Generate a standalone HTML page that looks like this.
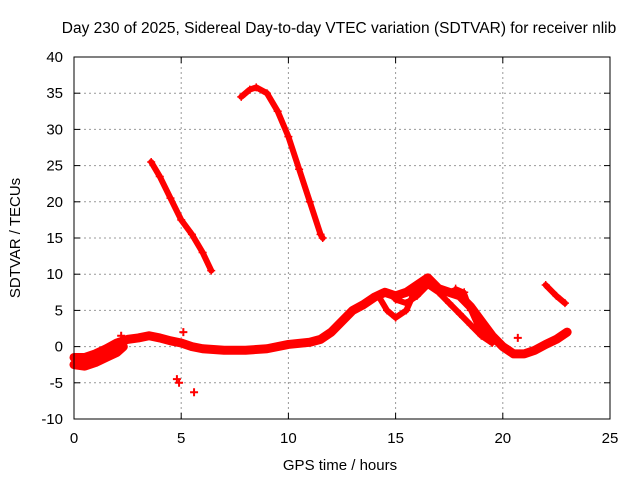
<!DOCTYPE html>
<html><head><meta charset="utf-8"><style>body{margin:0;background:#fff}svg{display:block;font-family:"Liberation Sans",sans-serif}</style></head>
<body>
<svg id="chart" width="640" height="480">
<text x="339" y="33" font-size="15.5" text-anchor="middle">Day 230 of 2025, Sidereal Day-to-day VTEC variation (SDTVAR) for receiver nlib</text>
<text x="340" y="470" font-size="15" text-anchor="middle">GPS time / hours</text>
<text x="20" y="238" font-size="15" text-anchor="middle" transform="rotate(-90 20 238)">SDTVAR / TECUs</text>
<g id="grid"></g><g id="marks"></g>
<rect x="74" y="57" width="536" height="362" fill="none" stroke="#000"/>
</svg>
<script>
const xTicks=[0,5,10,15,20,25];
const yTicks=[-10,-5,0,5,10,15,20,25,30,35,40];
const mainBand=[[0,-1.5],[0.5,-1.5],[1,-1],[1.5,-0.3],[2,0.5],[2.5,1],[3,1.2],[3.5,1.5],[4,1.2],[4.5,0.8],[5,0.5],[5.5,0],[6,-0.3],[7,-0.5],[8,-0.5],[9,-0.3],[10,0.3],[11,0.6],[11.5,1],[12,2],[12.5,3.5],[13,5],[13.5,5.8],[14,6.8],[14.5,7.5],[15,7],[15.5,7.5],[16,8.5],[16.5,9.5],[17,8],[17.5,7.5],[18,7],[18.5,5.5],[19,3.5],[19.5,1.5],[20,0],[20.5,-1],[21,-1],[21.5,-0.5],[22,0.3],[22.5,1],[23,2]];
const lowerBand=[[0,-2.5],[0.5,-2.7],[1,-2.2],[1.5,-1.5],[2,-0.8],[2.3,0]];
const loopStrand=[[14.2,7],[14.6,5],[15,4],[15.5,5],[15.8,7],[16.2,8.5],[16.5,8.8]];
const secondStrand=[[15,6.5],[15.5,6],[16,7],[16.5,8.5],[17,7.5],[17.5,6],[18,4.5],[18.5,3],[19,1.5],[19.5,0.5]];
const thirdStrand=[[17.8,8],[18.2,7.5],[18.5,5],[18.8,3],[19.2,1.8]];
const arc1=[[3.6,25.5],[4,23.5],[4.5,20.5],[5,17.5],[5.5,15.5],[6,13],[6.4,10.5]];
const arc2=[[7.8,34.5],[8.2,35.5],[8.5,35.8],[9,35],[9.5,32.5],[10,29],[10.5,24.5],[11,20],[11.5,15.5],[11.6,15]];
const arc3=[[22,8.5],[22.5,7],[22.9,6]];
const outliers=[[4.8,-4.5],[4.9,-5],[5.6,-6.3],[2.2,1.5],[5.1,2],[20.7,1.2]];
const NS='http://www.w3.org/2000/svg';
const X=v=>74+v*536/25, Y=v=>419-(v+10)*362/50;
const grid=document.getElementById('grid'),marks=document.getElementById('marks');
function mk(t,a,p){const e=document.createElementNS(NS,t);for(const k in a)e.setAttribute(k,a[k]);p.appendChild(e);return e;}
xTicks.forEach(t=>{
 if(t>0&&t<25){const l=mk('line',{x1:X(t),x2:X(t),y1:57,y2:419,stroke:'#999','stroke-dasharray':'2,3'},grid);
 
 }
 mk('line',{x1:X(t),x2:X(t),y1:419,y2:413,stroke:'#000'},grid);mk('line',{x1:X(t),x2:X(t),y1:57,y2:63,stroke:'#000'},grid);
 const s=mk('text',{x:X(t),y:443,'font-size':15,'text-anchor':'middle'},grid);s.textContent=t;
 
 });
yTicks.forEach(t=>{
 if(t>-10&&t<40){const l=mk('line',{x1:74,x2:610,y1:Y(t),y2:Y(t),stroke:'#999','stroke-dasharray':'2,3'},grid);
 
 }
 mk('line',{x1:74,x2:80,y1:Y(t),y2:Y(t),stroke:'#000'},grid);mk('line',{x1:604,x2:610,y1:Y(t),y2:Y(t),stroke:'#000'},grid);
 const s=mk('text',{x:63,y:Y(t)+5,'font-size':15,'text-anchor':'end'},grid);s.textContent=t;
 
 });
function series(arr,w,name){
 const p=mk('polyline',{points:arr.map(d=>X(d[0])+','+Y(d[1])).join(' '),fill:'none',stroke:'#f00','stroke-width':w,'stroke-linejoin':'round','stroke-linecap':'round'},marks);
 
 
 arr.forEach(d=>{const g=mk('path',{d:`M${X(d[0])-4},${Y(d[1])}h8M${X(d[0])},${Y(d[1])-4}v8`,stroke:'#f00','stroke-width':1.5},marks);
 
 });
}
series(mainBand,9,'main-band');
series(lowerBand,9,'lower-band');
series(loopStrand,6,'loop-strand');
series(secondStrand,6,'second-strand');
series(thirdStrand,5,'third-strand');
series(arc1,6,'arc-1');
series(arc2,6,'arc-2');
series(arc3,6,'arc-3');
outliers.forEach(d=>{const g=mk('path',{d:`M${X(d[0])-4},${Y(d[1])}h8M${X(d[0])},${Y(d[1])-4}v8`,stroke:'#f00','stroke-width':2},marks);
 
 });
</script>
</body></html>
